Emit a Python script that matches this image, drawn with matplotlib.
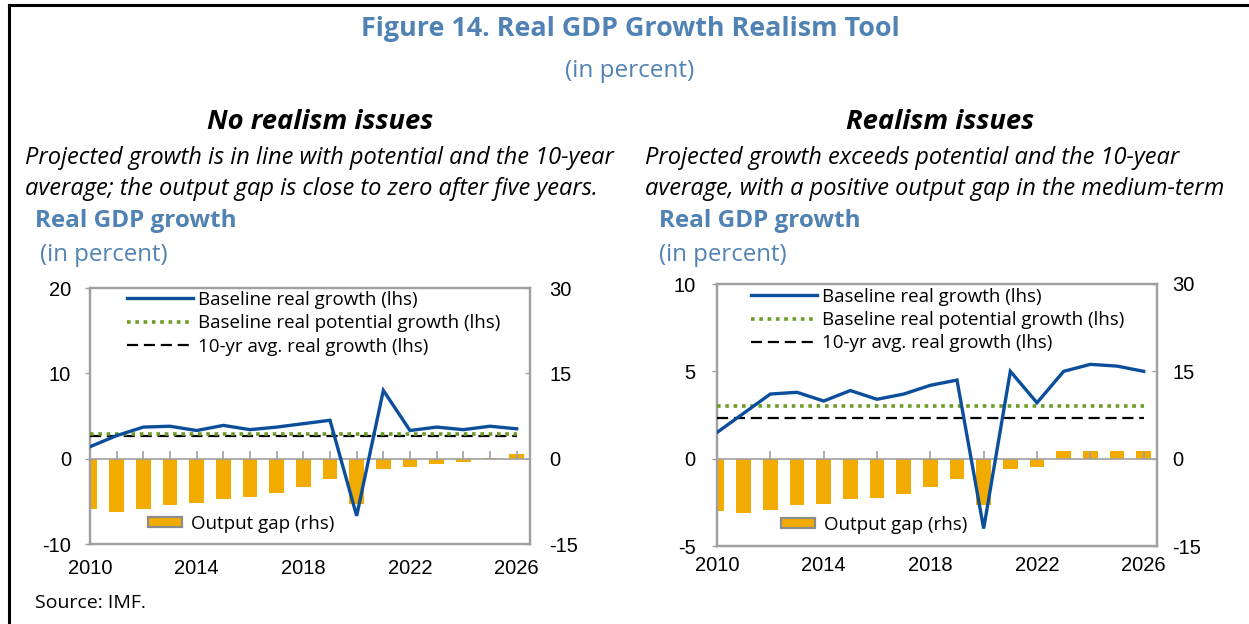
import matplotlib
matplotlib.use("Agg")
import matplotlib.pyplot as plt
from matplotlib.lines import Line2D
from matplotlib.patches import Patch

plt.rcParams["axes.unicode_minus"] = False

# ---------------- data ----------------
years = list(range(2010, 2027))

left_growth = [1.4, 2.7, 3.7, 3.8, 3.3, 3.9, 3.4, 3.7, 4.1, 4.5, -6.7, 8.0, 3.3, 3.7, 3.4, 3.8, 3.5]
left_potential = 2.9
left_avg10 = 2.7
left_gap = [-8.9, -9.4, -8.8, -8.1, -7.8, -7.1, -6.7, -6.0, -4.9, -3.5, -8.0, -1.8, -1.5, -0.9, -0.5, 0.2, 0.8]

right_growth = [1.5, 2.6, 3.7, 3.8, 3.3, 3.9, 3.4, 3.7, 4.2, 4.5, -4.0, 5.0, 3.2, 5.0, 5.4, 5.3, 5.0]
right_potential = 3.0
right_avg10 = 2.3
right_gap = [-9.0, -9.4, -8.8, -8.0, -7.8, -7.0, -6.7, -6.0, -4.9, -3.5, -8.0, -1.8, -1.5, 1.4, 1.4, 1.4, 1.4]

left_yticks = [-10, 0, 10, 20]
left_y2ticks = [-15, 0, 15, 30]
right_yticks = [-5, 0, 5, 10]
right_y2ticks = [-15, 0, 15, 30]
xlabels = [2010, 2014, 2018, 2022, 2026]

legend_labels = ["Baseline real growth (lhs)", "Baseline real potential growth (lhs)",
                 "10-yr avg. real growth (lhs)"]
bar_label = "Output gap (rhs)"

# ---------------- style ----------------
BLUE_T = "#5082b4"
LINE_BLUE = "#0b4f9c"
GREEN = "#6a9c28"
ORANGE = "#f2ab00"
GREY = "#a0a0a0"
TXT_FONT = ["Open Sans", "DejaVu Sans"]
NUM_FONT = ["Liberation Sans", "DejaVu Sans"]
TICK_FS = 14.5
LEG_FS = 13.5

W, H = 1249, 624
fig = plt.figure(figsize=(W / 100, H / 100), dpi=100)


def fx(px):
    return px / W


def fy(py):
    return 1 - py / H


def panel(rect, growth, pot, avg, gap, yt, y2t, tick_years, leg_xy, bar_leg_xy, xr_pad, yl_pad, yr_pad):
    ax = fig.add_axes(rect)
    ax2 = ax.twinx()
    ax.set_zorder(2)
    ax2.set_zorder(1)
    ax.patch.set_visible(False)

    ax2.bar(years, gap, width=0.55, color=ORANGE, zorder=1)
    ax.plot(years, growth, color=LINE_BLUE, lw=2.4, zorder=5, solid_joinstyle="miter")
    ax.plot([years[0], years[-1]], [pot, pot], color=GREEN, lw=2.6,
            linestyle=(0, (1, 1.3)), zorder=4)
    ax.plot([years[0], years[-1]], [avg, avg], color="black", lw=1.6,
            linestyle=(0, (5, 2.6)), zorder=3)

    ax.set_xlim(2010, 2026.5)
    ax2.set_xlim(2010, 2026.5)
    ax.set_ylim(yt[0], yt[-1])
    ax2.set_ylim(y2t[0], y2t[-1])
    ax.set_yticks(yt)
    ax2.set_yticks(y2t)
    ax.set_xticks(xlabels)
    ax.set_xticklabels([str(v) for v in xlabels], fontfamily=NUM_FONT, fontsize=TICK_FS)
    ax.tick_params(axis="x", length=0, pad=xr_pad)
    ax.tick_params(axis="y", direction="out", length=3.5, color=GREY, width=1, pad=yl_pad,
                   labelsize=TICK_FS)
    ax2.tick_params(axis="y", direction="in", length=3.5, color=GREY, width=1, pad=yr_pad,
                    labelsize=TICK_FS)
    for lab in ax.get_yticklabels() + ax2.get_yticklabels():
        lab.set_fontfamily(NUM_FONT)

    for a in (ax, ax2):
        for s in a.spines.values():
            s.set_color(GREY)
            s.set_linewidth(1.6)

    # zero line with year ticks
    frac = (0 - yt[0]) / (yt[-1] - yt[0])
    sec = ax.secondary_xaxis(frac)
    sec.set_xticks(tick_years)
    sec.tick_params(axis="x", direction="in", length=5.5, color=GREY, width=1.2,
                    labelbottom=False, labeltop=False)
    sec.spines["bottom"].set_color(GREY)
    sec.spines["bottom"].set_linewidth(1.2)
    sec.spines["top"].set_visible(False)

    handles = [Line2D([], [], color=LINE_BLUE, lw=2.4),
               Line2D([], [], color=GREEN, lw=2.6, linestyle=(0, (1, 1.3))),
               Line2D([], [], color="black", lw=1.6, linestyle=(0, (5, 2.6)))]
    leg = ax.legend(handles, legend_labels, loc="upper left",
                    bbox_to_anchor=leg_xy, bbox_transform=fig.transFigure,
                    frameon=False, borderpad=0, borderaxespad=0, handlelength=3.5,
                    handletextpad=0.3, labelspacing=0.28,
                    prop={"family": TXT_FONT, "size": LEG_FS})
    ax.add_artist(leg)
    bh = [Patch(facecolor=ORANGE, edgecolor="#8c8c8c", linewidth=1.6)]
    ax.legend(bh, [bar_label], loc="center left", bbox_to_anchor=bar_leg_xy,
              bbox_transform=fig.transFigure, frameon=False, borderpad=0,
              borderaxespad=0, handlelength=1.8, handleheight=0.45, handletextpad=0.5,
              prop={"family": TXT_FONT, "size": LEG_FS})
    return ax


panel([fx(90), fy(544), fx(530) - fx(90), fy(288) - fy(544)],
      left_growth, left_potential, left_avg10, left_gap,
      left_yticks, left_y2ticks, list(range(2011, 2027)),
      (fx(127), fy(291)), (fx(148), fy(524)), 10.5, 10, 14)

panel([fx(717), fy(546), fx(1157) - fx(717), fy(284) - fy(546)],
      right_growth, right_potential, right_avg10, right_gap,
      right_yticks, right_y2ticks, list(range(2012, 2027, 2)),
      (fx(751), fy(288)), (fx(781), fy(525)), 7.5, 12, 11)

# ---------------- texts ----------------
fig.text(fx(630), fy(29), "Figure 14. Real GDP Growth Realism Tool", ha="center", va="center",
         fontsize=19.4, fontweight="bold", color=BLUE_T, family=TXT_FONT)
fig.text(fx(630), fy(71), "(in percent)", ha="center", va="center",
         fontsize=17.5, color=BLUE_T, family=TXT_FONT)

fig.text(fx(320), fy(122), "No realism issues", ha="center", va="center",
         fontsize=19.7, fontweight="bold", style="italic", color="black", family=TXT_FONT)
fig.text(fx(940), fy(122), "Realism issues", ha="center", va="center",
         fontsize=19.7, fontweight="bold", style="italic", color="black", family=TXT_FONT)

fig.text(fx(25), fy(158), "Projected growth is in line with potential and the 10-year",
         ha="left", va="center", fontsize=17, style="italic", family=TXT_FONT)
fig.text(fx(25), fy(189), "average; the output gap is close to zero after five years.",
         ha="left", va="center", fontsize=17, style="italic", family=TXT_FONT)
fig.text(fx(645), fy(158), "Projected growth exceeds potential and the 10-year",
         ha="left", va="center", fontsize=17, style="italic", family=TXT_FONT)
fig.text(fx(645), fy(189), "average, with a positive output gap in the medium-term",
         ha="left", va="center", fontsize=17, style="italic", family=TXT_FONT)

for x0, x1 in ((35, 40), (659, 659)):
    fig.text(fx(x0), fy(221), "Real GDP growth", ha="left", va="center", fontsize=17.5,
             fontweight="bold", color=BLUE_T, family=TXT_FONT)
    fig.text(fx(x1), fy(255), "(in percent)", ha="left", va="center", fontsize=17.3,
             color=BLUE_T, family=TXT_FONT)

fig.text(fx(35), fy(603), "Source: IMF.", ha="left", va="center", fontsize=14,
         family=TXT_FONT)

# border (top and left)
fig.add_artist(Line2D([fx(9), 1], [fy(5), fy(5)], color="black", lw=2.2))
fig.add_artist(Line2D([fx(9), fx(9)], [fy(5), 0], color="black", lw=2.2))

fig.savefig("out.png", dpi=100)
